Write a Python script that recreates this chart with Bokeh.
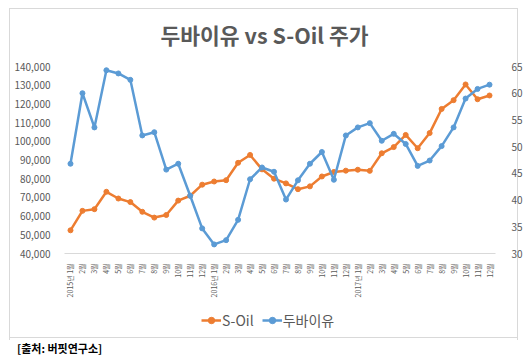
import math
from bokeh.plotting import figure
from bokeh.layouts import column
from bokeh.models import (Range1d, LinearAxis, FixedTicker, NumeralTickFormatter,
                          Legend, LegendItem, Div)
from bokeh.embed import file_html
from bokeh.resources import INLINE

# ---- data ----
month_idx = list(range(36))
tick_labels = []
for yr in [2015, 2016, 2017]:
    for m in range(1, 13):
        tick_labels.append(f"{yr}년 {m}월" if m == 1 else f"{m}월")

soil = [52400, 62800, 63700, 73000, 69400, 67500, 62300, 59200, 60600, 68300, 70900, 76800,
        78500, 79200, 88500, 92700, 85000, 80000, 77500, 74400, 75900, 81200, 83600, 84300,
        84800, 84200, 93600, 96900, 103400, 96300, 104400, 117300, 122000, 130400, 122500, 124500]
dubai = [46.8, 60.0, 53.6, 64.3, 63.7, 62.5, 52.1, 52.7, 45.7, 46.8, 40.8, 34.7,
         31.7, 32.5, 36.3, 43.9, 46.1, 45.3, 40.1, 43.7, 46.8, 49.0, 43.8, 52.1,
         53.6, 54.4, 51.1, 52.4, 50.5, 46.4, 47.4, 50.1, 53.6, 59.0, 60.8, 61.6]
left_ticks = list(range(40000, 140001, 10000))
right_ticks = list(range(30, 66, 5))
series_names = ["S-Oil", "두바이유"]

title_text = "두바이유 vs S-Oil 주가"
source_text = "[출처: 버핏연구소]"

ORANGE = "#ED7D31"
BLUE = "#5B9BD5"
GRAY = "#595959"
FONT = "Noto Sans CJK KR"
LINE = "linear-gradient(#d9d9d9,#d9d9d9)"

# ---------------- main chart ----------------
p = figure(width=525, height=300, output_backend="svg", toolbar_location=None,
           x_range=Range1d(-0.5, 35.5), y_range=Range1d(40000, 140000),
           min_border_left=64, min_border_right=30, min_border_top=66, min_border_bottom=40)
p.outline_line_color = None
p.grid.visible = False
p.background_fill_color = None
p.border_fill_color = None

p.title.text = title_text
p.title.align = "left"
p.title.offset = 96
p.title.standoff = 33
p.title.text_font = FONT
p.title.text_font_size = "21.5px"
p.title.text_font_style = "bold"
p.title.text_color = GRAY

xa = p.xaxis[0]
xa.ticker = FixedTicker(ticks=month_idx)
xa.major_label_overrides = {i: t for i, t in zip(month_idx, tick_labels)}
xa.major_label_orientation = math.pi / 2
xa.major_label_text_font_size = "7px"
xa.major_label_text_color = GRAY
xa.major_label_text_font = FONT
xa.major_tick_line_color = None
xa.minor_tick_line_color = None
xa.axis_line_color = "#d9d9d9"
xa.major_label_standoff = 4

ya = p.yaxis[0]
ya.ticker = FixedTicker(ticks=left_ticks)
ya.formatter = NumeralTickFormatter(format="0,0")
ya.major_label_text_font_size = "10px"
ya.major_label_text_color = GRAY
ya.major_label_text_font = FONT
ya.major_tick_line_color = None
ya.minor_tick_line_color = None
ya.axis_line_color = None
ya.major_label_standoff = 8

p.extra_y_ranges = {"dubai": Range1d(30, 65)}
ra = LinearAxis(y_range_name="dubai", ticker=FixedTicker(ticks=right_ticks))
ra.major_label_text_font_size = "10px"
ra.major_label_text_color = GRAY
ra.major_label_text_font = FONT
ra.major_tick_line_color = None
ra.minor_tick_line_color = None
ra.axis_line_color = None
ra.major_label_standoff = 10
p.add_layout(ra, "right")

p.line(month_idx, soil, line_color=ORANGE, line_width=2.5)
p.scatter(month_idx, soil, size=5, color=ORANGE)
p.line(month_idx, dubai, line_color=BLUE, line_width=2.5, y_range_name="dubai")
p.scatter(month_idx, dubai, size=5, color=BLUE, y_range_name="dubai")

# ---------------- legend strip (same series, kept off its visible range) ----------------
q = figure(width=525, height=36, output_backend="svg", toolbar_location=None,
           x_range=Range1d(-0.5, 35.5), y_range=Range1d(0, 1),
           x_axis_type=None, y_axis_type=None,
           min_border_left=64, min_border_right=30, min_border_top=0, min_border_bottom=0)
q.outline_line_color = None
q.grid.visible = False
q.background_fill_color = None
q.border_fill_color = None

ql1 = q.line(month_idx, soil, line_color=ORANGE, line_width=2.5)
qs1 = q.scatter(month_idx, soil, size=5, color=ORANGE)
ql2 = q.line(month_idx, dubai, line_color=BLUE, line_width=2.5)
qs2 = q.scatter(month_idx, dubai, size=5, color=BLUE)

legend = Legend(items=[LegendItem(label=series_names[0], renderers=[ql1, qs1]),
                       LegendItem(label=series_names[1], renderers=[ql2, qs2])],
                orientation="horizontal", location=(137, 6),
                label_text_font_size="14px", label_text_color=GRAY, label_text_font=FONT,
                glyph_width=20, glyph_height=16, label_height=16, label_standoff=1,
                spacing=8, padding=0, margin=0, border_line_color=None,
                background_fill_alpha=0)
q.add_layout(legend, "center")

src = Div(text=source_text, width=200, height=14,
          styles={"font-size": "11px", "font-weight": "bold", "font-family": FONT,
                  "color": "black", "padding-left": "12px", "line-height": "14px"})

layout = column(p, q, src, spacing=0)
layout.styles = {
    "background-color": "white",
    "background-image": ", ".join([LINE] * 4),
    "background-size": "509px 1px, 509px 1px, 1px 332px, 1px 332px",
    "background-position": "9px 8px, 9px 337px, 9px 8px, 517px 8px",
    "background-repeat": "no-repeat",
}

open("out.html", "w").write(file_html(layout, INLINE))
